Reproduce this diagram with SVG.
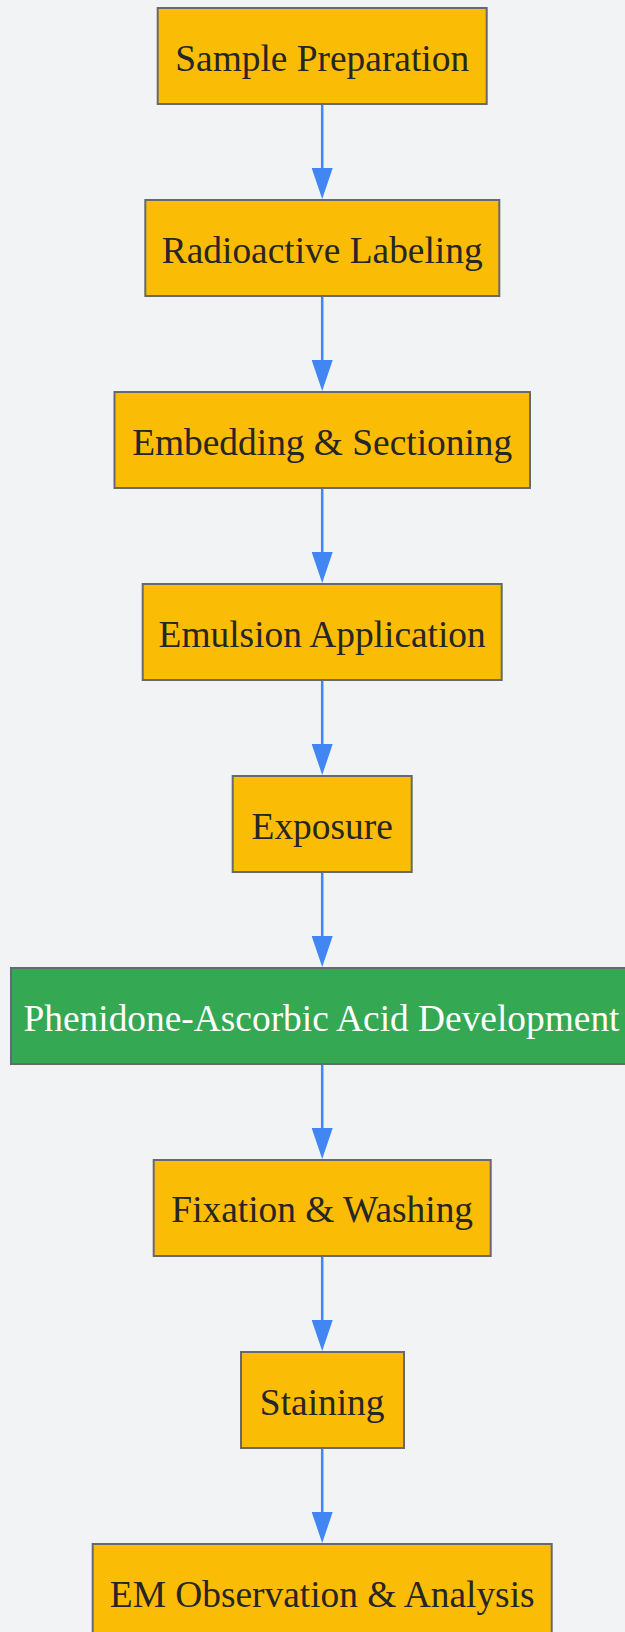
<svg xmlns="http://www.w3.org/2000/svg" width="625" height="1632" viewBox="0 0 625 1632">
<style>
.bg{fill:#F1F3F4}
.n rect{fill:#FBBC05;stroke:#666A6E;stroke-width:2}
.n text{font-family:"Liberation Serif","Times New Roman",serif;font-size:37.4px;fill:#262626;text-anchor:middle}
.g rect{fill:#34A853}
.g text{fill:#FFFFFF}
.e line{stroke:#4285F4;stroke-width:2.5;fill:none}
</style>
<defs>
<marker id="ah" viewBox="0 0 31 21" markerWidth="31" markerHeight="21" refX="0" refY="10.5" orient="auto" markerUnits="userSpaceOnUse">
<path d="M0,0 L31,10.5 L0,21 z" fill="#4285F4"/>
</marker>
</defs>
<rect class="bg" x="0" y="0" width="625" height="1632"/>
<g id="connectors" class="e">
<line x1="322.2" y1="105" x2="322.2" y2="168" marker-end="url(#ah)"/>
<line x1="322.2" y1="297" x2="322.2" y2="360" marker-end="url(#ah)"/>
<line x1="322.2" y1="489" x2="322.2" y2="552" marker-end="url(#ah)"/>
<line x1="322.2" y1="681" x2="322.2" y2="744" marker-end="url(#ah)"/>
<line x1="322.2" y1="873" x2="322.2" y2="936" marker-end="url(#ah)"/>
<line x1="322.2" y1="1065" x2="322.2" y2="1128" marker-end="url(#ah)"/>
<line x1="322.2" y1="1257" x2="322.2" y2="1320" marker-end="url(#ah)"/>
<line x1="322.2" y1="1449" x2="322.2" y2="1512" marker-end="url(#ah)"/>
</g>
<g id="n1" class="n"><rect x="157.7" y="8" width="329" height="96"/><text x="322.2" y="71">Sample Preparation</text></g>
<g id="n2" class="n"><rect x="145.3" y="200" width="354" height="96"/><text x="322.2" y="262.5">Radioactive Labeling</text></g>
<g id="n3" class="n"><rect x="114.5" y="392" width="415.5" height="96"/><text x="322.2" y="454.5">Embedding &amp; Sectioning</text></g>
<g id="n4" class="n"><rect x="142.7" y="584" width="359" height="96"/><text x="322.2" y="646.5">Emulsion Application</text></g>
<g id="n5" class="n"><rect x="232.7" y="776" width="179" height="96"/><text x="322.2" y="838.5">Exposure</text></g>
<g id="n6" class="n g"><rect x="11" y="968" width="621" height="96"/><text x="321.5" y="1030.5">Phenidone-Ascorbic Acid Development</text></g>
<g id="n7" class="n"><rect x="153.7" y="1160" width="337" height="96"/><text x="322.2" y="1222">Fixation &amp; Washing</text></g>
<g id="n8" class="n"><rect x="241" y="1352" width="163" height="96"/><text x="322.2" y="1414.5">Staining</text></g>
<g id="n9" class="n"><rect x="92.7" y="1544" width="459" height="96"/><text x="322.2" y="1606.5">EM Observation &amp; Analysis</text></g>
</svg>
